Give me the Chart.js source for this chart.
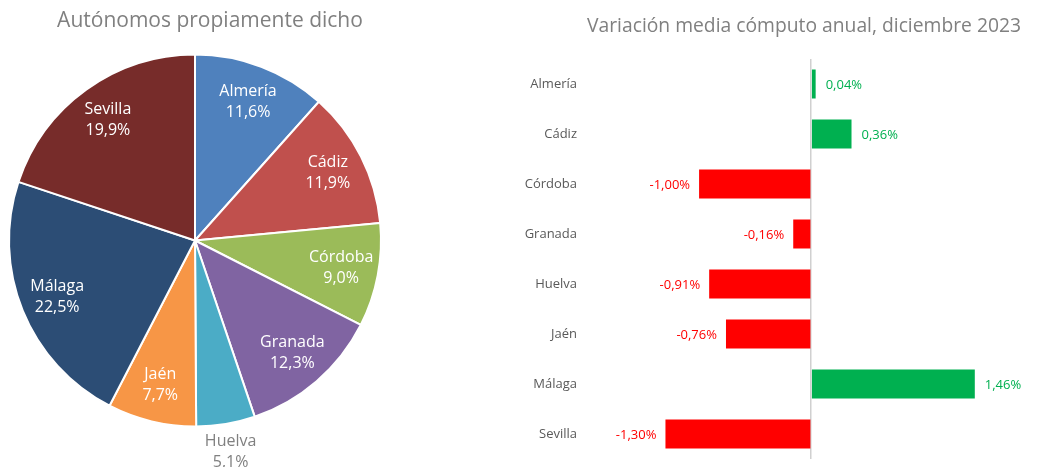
<!DOCTYPE html>
<html><head><meta charset="utf-8">
<script src="https://cdn.jsdelivr.net/npm/chart.js@4.4.1/dist/chart.umd.min.js"></script>
<style>
html,body{margin:0;padding:0;background:#fff;width:1037px;height:467px;overflow:hidden}
#pie{position:absolute;left:0;top:0}
#bar{position:absolute;left:500px;top:0}
</style></head><body>
<canvas id="pie" width="420" height="467"></canvas>
<canvas id="bar" width="537" height="467"></canvas>
<script>
const provinces = ['Almería','Cádiz','Córdoba','Granada','Huelva','Jaén','Málaga','Sevilla'];
const pieShares = [11.6, 11.9, 9.0, 12.3, 5.1, 7.7, 22.5, 19.9];
const annualChange = [0.04, 0.36, -1.00, -0.16, -0.91, -0.76, 1.46, -1.30];
const pieTitle = 'Autónomos propiamente dicho';
const barTitle = 'Variación media cómputo anual, diciembre 2023';
const pieColors = ['#4F81BD','#C0504D','#9BBB59','#8064A2','#4BACC6','#F79646','#2C4D75','#772C2A'];
const posColor = '#00B050', negColor = '#FF0000';
const FONT = '"Open Sans", "DejaVu Sans", sans-serif';

function fmt(v, d){ return v.toFixed(d).replace('.', ','); }

const titleText = {
  id: 'titleText',
  afterDraw(chart, args, o){
    const ctx = chart.ctx;
    ctx.save();
    ctx.font = o.size + 'px ' + FONT;
    ctx.fillStyle = '#808080';
    ctx.textAlign = 'center'; ctx.textBaseline = 'alphabetic';
    ctx.fillText(o.text, o.x, o.y);
    ctx.restore();
  }
};

const pieLabels = {
  id: 'pieLabels',
  afterDatasetsDraw(chart){
    const ctx = chart.ctx, meta = chart.getDatasetMeta(0);
    ctx.save();
    ctx.font = '16px ' + FONT;
    ctx.textAlign = 'center'; ctx.textBaseline = 'middle';
    meta.data.forEach((arc, i) => {
      const mid = (arc.startAngle + arc.endAngle) / 2;
      const outside = pieShares[i] < 6;
      const d = arc.outerRadius * (outside ? 1.155 : 0.8);
      const x = arc.x + Math.cos(mid) * d, y = arc.y + Math.sin(mid) * d;
      ctx.fillStyle = outside ? '#808080' : '#ffffff';
      ctx.fillText(provinces[i], x, y - 10.5);
      ctx.fillText(fmt(pieShares[i], 1) + '%', x, y + 10.5);
    });
    ctx.restore();
  }
};

new Chart(document.getElementById('pie'), {
  type: 'pie',
  data: { labels: provinces, datasets: [{ data: pieShares, backgroundColor: pieColors, borderColor: '#ffffff', borderWidth: 2 }] },
  options: {
    responsive: false, animation: false,
    layout: { padding: { left: 8, right: 38, top: 53, bottom: 39 } },
    plugins: {
      legend: { display: false }, tooltip: { enabled: false }, title: { display: false },
      titleText: { text: pieTitle, x: 210, y: 27, size: 21 }
    }
  },
  plugins: [pieLabels, titleText]
});

const barLabels = {
  id: 'barLabels',
  afterDatasetsDraw(chart){
    const ctx = chart.ctx, meta = chart.getDatasetMeta(0);
    ctx.save();
    ctx.font = '13px ' + FONT;
    ctx.textBaseline = 'middle';
    meta.data.forEach((bar, i) => {
      const v = annualChange[i], pos = v >= 0;
      ctx.fillStyle = pos ? posColor : negColor;
      ctx.textAlign = pos ? 'left' : 'right';
      ctx.fillText(fmt(v, 2) + '%', pos ? bar.x + 10 : bar.x - 9, bar.y + 1);
    });
    ctx.restore();
  }
};

new Chart(document.getElementById('bar'), {
  type: 'bar',
  data: { labels: provinces, datasets: [{ data: annualChange,
    backgroundColor: annualChange.map(v => v >= 0 ? posColor : negColor),
    borderWidth: 0, barPercentage: 0.58, categoryPercentage: 1 }] },
  options: {
    indexAxis: 'y', responsive: false, animation: false,
    layout: { padding: { left: 7, right: 14, top: 59, bottom: 8 } },
    scales: {
      x: { min: -2, max: 1.89, ticks: { display: false, stepSize: 1 },
           border: { display: false },
           grid: { drawTicks: false, lineWidth: 1.5, color: c => (c.tick && c.tick.value === 0) ? '#d0d0d0' : 'rgba(0,0,0,0)' },
           afterFit(s){ s.height = 0; s.paddingLeft = 0; s.paddingRight = 0; } },
      y: { ticks: { color: '#595959', font: { family: FONT, size: 13 }, padding: 10 },
           border: { display: false }, grid: { display: false, drawTicks: false },
           afterFit(s){ s.width = 80; s.paddingTop = 0; s.paddingBottom = 0; } }
    },
    plugins: {
      legend: { display: false }, tooltip: { enabled: false }, title: { display: false },
      titleText: { text: barTitle, x: 304, y: 32, size: 19.3 }
    }
  },
  plugins: [barLabels, titleText]
});
</script>
</body></html>
